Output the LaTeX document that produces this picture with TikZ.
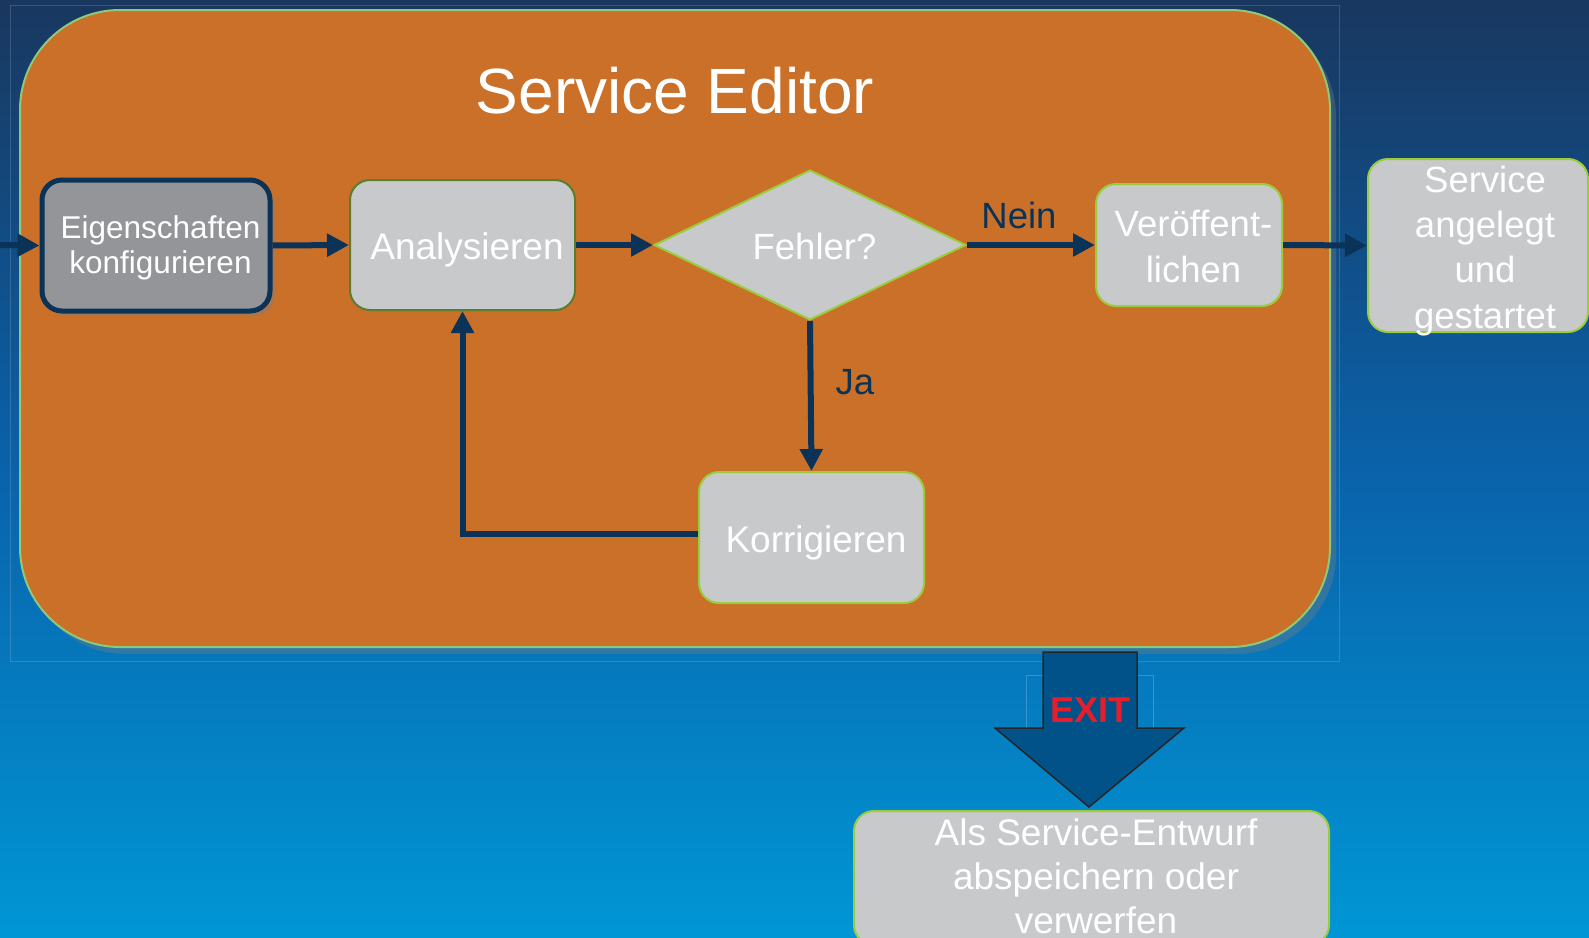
\documentclass[tikz,border=0pt]{standalone}
\usepackage{fontspec}
\setmainfont{Liberation Sans}
\usetikzlibrary{shapes.geometric,arrows.meta,shadows}
\definecolor{bgtop}{HTML}{19375F}
\definecolor{bgmid}{HTML}{0A62AA}
\definecolor{bgbot}{HTML}{0096D5}
\definecolor{edorange}{HTML}{CA7029}
\definecolor{edborder}{HTML}{8CC97A}
\definecolor{boxgray}{HTML}{C8C9CB}
\definecolor{darkgray}{HTML}{939598}
\definecolor{navy}{HTML}{0B3358}
\definecolor{boxgreen}{HTML}{9ACD3C}
\definecolor{olive}{HTML}{5A7D2F}
\definecolor{exitblue}{HTML}{02528A}
\definecolor{exitred}{HTML}{E41E2B}
\newcommand{\pst}{\rule[-0.212em]{0pt}{1.227em}}
\newcommand{\tstr}[1]{\rule{0pt}{#1}}
\newcommand{\bst}{\rule[-0.212em]{0pt}{0.212em}}
\newcommand{\lpad}[1][9pt]{\hspace*{#1}}
\begin{document}
\begin{tikzpicture}[x=1pt,y=-1pt,
  procbox/.style={draw=boxgreen, line width=2pt, fill=boxgray, rounded corners=20pt,
    text=white, inner sep=0pt, align=center, font=\fontsize{37}{45}\selectfont},
  flow/.style={draw=navy, line width=6pt, -{Triangle[length=22pt,width=22pt]}},
  lbl/.style={text=navy, font=\fontsize{36.5}{44}\selectfont}
]
\useasboundingbox (0,0) rectangle (1589,937);
\begin{scope}
\clip (0,0) rectangle (1589,937);
% background
\fill[top color=bgtop, bottom color=bgbot, middle color=bgmid] (0,0) rectangle (1589,937);
\draw[white, opacity=0.15, line width=1pt] (10,5) rectangle (1339,661);
% editor panel
\node[draw=edborder, line width=2pt, fill=edorange, rounded corners=100pt,
  minimum width=1310pt, minimum height=637pt, inner sep=0pt,
  drop shadow={opacity=0.35, shadow xshift=6pt, shadow yshift=-7pt}] (editor) at (675,328.5) {};
\node[text=white, font=\fontsize{64}{70}\selectfont] (title) at (675,91) {Service Editor};
% process nodes
\node[procbox, draw=navy, line width=5pt, fill=darkgray, minimum width=228pt, minimum height=131pt,
  font=\fontsize{31.5}{35}\selectfont,
  drop shadow={opacity=0.4, shadow xshift=5pt, shadow yshift=-5pt}] (eig) at (156,245.5)
  {\tstr{27.6pt}\lpad Eigenschaften\\\lpad konfigurieren\bst};
\node[procbox, draw=olive, minimum width=225pt, minimum height=130pt] (ana) at (462.5,245) {\pst\lpad Analysieren};
\node[diamond, aspect=2.08, draw=boxgreen, line width=2pt, fill=boxgray, minimum width=312pt, minimum height=150pt,
  inner sep=0pt, text=white, font=\fontsize{36.5}{44}\selectfont] (fehl) at (810,245) {\pst\lpad Fehler?};
\node[procbox, minimum width=186pt, minimum height=122pt, font=\fontsize{36.5}{45.5}\selectfont] (ver) at (1189,245)
  {\tstr{36.5pt}\lpad Veröffent-\\\lpad lichen\bst};
\node[procbox, minimum width=220pt, minimum height=173pt, font=\fontsize{36.5}{45.3}\selectfont] (sag) at (1478,245.5)
  {\tstr{29.1pt}\lpad[14pt]Service\\\lpad[14pt]angelegt\\\lpad[14pt]und\\\lpad[14pt]\smash{gestartet}};
\node[procbox, minimum width=225pt, minimum height=131pt] (korr) at (811.5,537.5) {\pst\lpad Korrigieren};
% labels
\node[lbl] (nein) at (1019,215) {Nein};
\node[lbl] (ja) at (855,382) {Ja};
% connectors
\coordinate (start) at (0,245);
\draw[flow] (start) -- (eig.west);
\draw[flow] (eig.east) -- (ana.west);
\draw[flow] (ana.east) -- (fehl.west);
\draw[flow] (fehl.east) -- (ver.west);
\draw[flow] (ver.east) -- (sag.west);
\draw[flow] (fehl.south) -- (korr.north);
\draw[flow] ([yshift=4pt]korr.west) -| (ana.south);
% exit arrow
\draw[white, opacity=0.2, line width=1pt] (1026,675) rectangle (1153,728);
\draw[fill=exitblue, draw=black!85, line width=1.5pt]
  (1043,652) -- (1137,652) -- (1137,728) -- (1184,728) -- (1089,807) -- (995,728) -- (1043,728) -- cycle;
\node[text=exitred, font=\bfseries\fontsize{36}{40}\selectfont] (exit) at (1090,710) {EXIT};
% draft box
\node[procbox, minimum width=475pt, minimum height=134pt, font=\fontsize{37}{44}\selectfont] (als) at (1091.5,878)
  {\tstr{33.5pt}\lpad Als Service-Entwurf\\\lpad abspeichern oder\\\lpad\smash{verwerfen}\rule[-10pt]{0pt}{10pt}};
\end{scope}
\end{tikzpicture}
\end{document}
